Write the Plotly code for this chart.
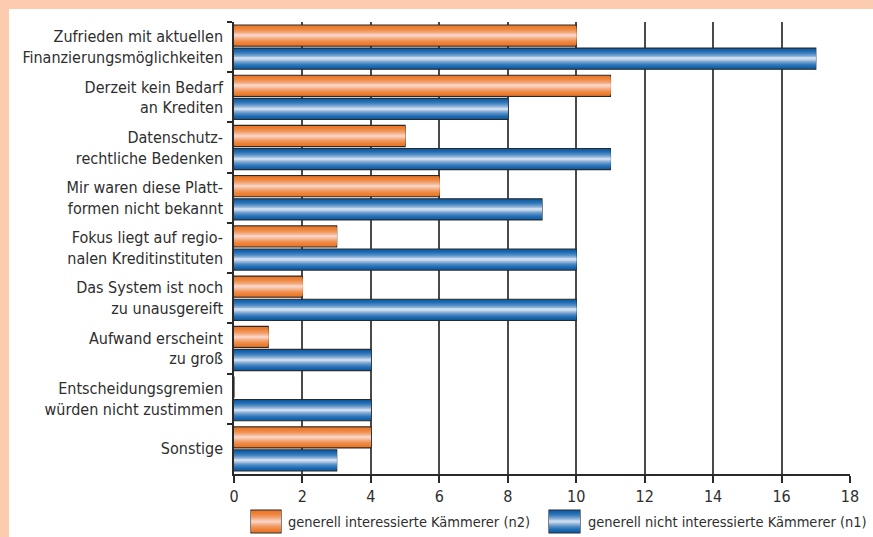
import plotly.graph_objects as go

# ---------------- data ----------------
categories = [
    "Zufrieden mit aktuellen<br>Finanzierungsmöglichkeiten",
    "Derzeit kein Bedarf<br>an Krediten",
    "Datenschutz-<br>rechtliche Bedenken",
    "Mir waren diese Platt-<br>formen nicht bekannt",
    "Fokus liegt auf regio-<br>nalen Kreditinstituten",
    "Das System ist noch<br>zu unausgereift",
    "Aufwand erscheint<br>zu groß",
    "Entscheidungsgremien<br>würden nicht zustimmen",
    "Sonstige",
]
n2_values = [10, 11, 5, 6, 3, 2, 1, 0, 4]
n1_values = [17, 8, 11, 9, 10, 10, 4, 4, 3]
series_names = [
    "generell interessierte Kämmerer (n2)",
    "generell nicht interessierte Kämmerer (n1)",
]
x_ticks = [0, 2, 4, 6, 8, 10, 12, 14, 16, 18]

# ---------------- styles ----------------
FONT = "DejaVu Sans Condensed, DejaVu Sans, sans-serif"
TEXT = "#2e2e2e"
PEACH = "#FDCBAD"
ORANGE_EDGE = (236, 120, 40)
ORANGE_CENTER = (249, 210, 195)
BLUE_EDGE = (14, 96, 172)
BLUE_CENTER = (206, 220, 240)
N_LAYERS = 12
GAMMA = 1.8
BAR_W = 0.42

W_PX, H_PX = 873, 537
ML, MR, MT, MB = 234, 23, 22, 63
PW = W_PX - ML - MR
PH = H_PX - MT - MB


def px_x(px):
    return (px - ML) / PW


def px_y(py):
    return (H_PX - MB - py) / PH


def lerp(c1, c2, t):
    return "rgb(%d,%d,%d)" % tuple(round(a + (b - a) * t) for a, b in zip(c1, c2))


fig = go.Figure()

series = [
    (n2_values, series_names[0], ORANGE_EDGE, ORANGE_CENTER, -0.44),
    (n1_values, series_names[1], BLUE_EDGE, BLUE_CENTER, 0.02),
]

for vals, name, edge, center, base_off in series:
    c_off = base_off + BAR_W / 2
    for k in range(N_LAYERS):
        frac = 1 - k / N_LAYERS
        w = BAR_W * frac
        t = (k / (N_LAYERS - 1)) ** GAMMA
        fig.add_trace(go.Bar(
            y=categories, x=vals, orientation="h",
            width=w, offset=c_off - w / 2,
            marker=dict(
                color=lerp(edge, center, t),
                line=dict(color="#2a2a2a" if k == 0 else "rgba(0,0,0,0)",
                          width=1.2 if k == 0 else 0),
            ),
            name=name, showlegend=False, hoverinfo="skip",
        ))

shapes = [
    dict(type="rect", xref="paper", yref="paper", layer="below",
         x0=px_x(9), x1=1.2, y0=px_y(9), y1=-0.3,
         fillcolor="white", line=dict(width=0)),
]
annotations = []

# custom legend
legend_items = [
    (series_names[0], ORANGE_EDGE, ORANGE_CENTER, 251, 281, 286),
    (series_names[1], BLUE_EDGE, BLUE_CENTER, 549, 580, 586),
]
for name, edge, center, x0, x1, tx in legend_items:
    y0p, y1p = 510, 533
    cy = (y0p + y1p) / 2
    half = (y1p - y0p) / 2
    for k in range(N_LAYERS):
        frac = 1 - k / N_LAYERS
        t = (k / (N_LAYERS - 1)) ** GAMMA
        shapes.append(dict(
            type="rect", xref="paper", yref="paper",
            x0=px_x(x0), x1=px_x(x1),
            y0=px_y(cy - half * frac), y1=px_y(cy + half * frac),
            fillcolor=lerp(edge, center, t),
            line=dict(color="#2a2a2a" if k == 0 else "rgba(0,0,0,0)",
                      width=1.2 if k == 0 else 0),
        ))
    annotations.append(dict(
        xref="paper", yref="paper", x=px_x(tx), y=px_y(cy),
        xanchor="left", yanchor="middle", showarrow=False,
        text=name, font=dict(family=FONT, size=14.5, color=TEXT),
    ))

fig.update_layout(
    width=W_PX, height=H_PX,
    margin=dict(l=ML, r=MR, t=MT, b=MB, pad=0),
    paper_bgcolor=PEACH, plot_bgcolor="rgba(0,0,0,0)",
    barmode="overlay",
    showlegend=False,
    shapes=shapes,
    annotations=annotations,
    font=dict(family=FONT, color=TEXT),
    xaxis=dict(
        range=[0, 18], tickvals=x_ticks, ticktext=[str(v) for v in x_ticks],
        showgrid=True, gridcolor="#4a4a4a", gridwidth=1.5,
        zeroline=False, showline=True, linecolor="#2a2a2a", linewidth=1.5,
        ticks="outside", ticklen=7, tickcolor="#2a2a2a", tickwidth=1.5,
        tickfont=dict(family=FONT, size=16, color=TEXT),
        fixedrange=True,
    ),
    yaxis=dict(
        type="category", categoryorder="array", categoryarray=categories,
        autorange="reversed",
        showgrid=False, showline=True, linecolor="#2a2a2a", linewidth=1.5,
        ticks="outside", tickson="boundaries", ticklen=5,
        tickcolor="#2a2a2a", tickwidth=1.5,
        tickfont=dict(family=FONT, size=16, color=TEXT),
        ticklabelstandoff=6,
        fixedrange=True,
    ),
)

fig.write_html("out.html")
